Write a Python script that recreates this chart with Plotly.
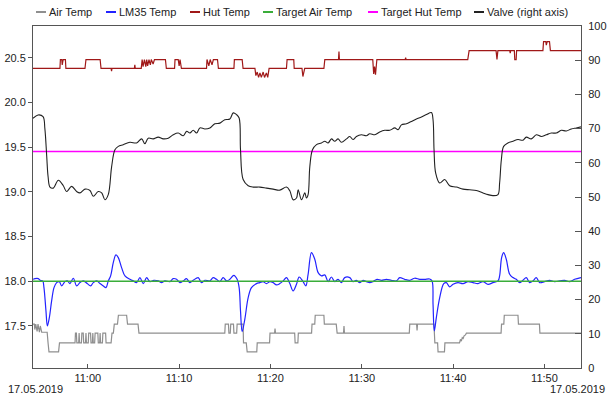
import pandas as pd
import plotly.graph_objects as go

# ---------------- data (time in minutes after 10:54:00 on 17.05.2019) ----------------
BASE = "2019-05-17 10:54:00"

air_m = [0, 0.15, 0.2, 0.3, 0.45, 0.55, 0.7, 0.8, 0.95, 1.55, 1.65, 1.75, 2.8, 2.9,
         4.6, 4.65, 4.75, 4.8, 5.0, 5.05, 5.1, 5.3, 5.35, 5.5, 5.55, 5.75, 5.8, 5.85, 6.05, 6.1, 6.3,
         6.35, 6.5, 6.55, 6.6, 6.75, 6.8, 7.1, 7.15, 7.3, 7.35, 7.4, 7.6, 7.65, 7.95, 8.0,
         8.55, 8.65, 8.8, 8.9, 9.25, 9.35, 10.25, 10.35, 11.5, 11.6, 21.0, 21.05, 21.4, 21.45, 21.6, 21.65,
         21.95, 22.0, 22.3, 22.35, 23.0, 23.05, 23.35, 23.45, 24.5, 24.55, 25.9, 25.95, 26.45, 26.5, 26.55,
         28.65, 28.7, 29.0, 29.05, 30.5, 30.55, 30.85, 30.9, 31.85, 31.9, 33.2, 33.3, 34.0, 34.05, 34.1,
         41.2, 41.25, 42.0, 42.05, 42.1, 43.9, 44.0, 44.3, 44.35, 45.05, 45.1, 46.7, 46.8, 46.9, 47.0, 47.1,
         47.2, 47.35, 47.45, 51.25, 51.3, 51.55, 51.6, 53.1, 53.15, 55.45, 55.5, 60]
air_v = [17.52, 17.52, 17.46, 17.52, 17.44, 17.52, 17.43, 17.50, 17.43, 17.43, 17.31, 17.21, 17.21, 17.31,
         17.31, 17.42, 17.42, 17.31, 17.31, 17.42, 17.31, 17.31, 17.42, 17.42, 17.31, 17.31, 17.42, 17.31,
         17.31, 17.42, 17.42, 17.31, 17.31, 17.42, 17.31, 17.31, 17.42, 17.42, 17.31, 17.31, 17.42, 17.31,
         17.31, 17.42, 17.42, 17.31,
         17.31, 17.42, 17.42, 17.52, 17.52, 17.62,
         17.62, 17.52, 17.52, 17.42, 17.42, 17.52, 17.52, 17.42, 17.42, 17.52, 17.52, 17.42, 17.42, 17.52,
         17.52, 17.31, 17.31, 17.21, 17.21, 17.31, 17.31, 17.42, 17.42, 17.47, 17.42, 17.42, 17.31, 17.31,
         17.42, 17.42, 17.52, 17.52, 17.62, 17.62, 17.52, 17.52, 17.42, 17.42, 17.50, 17.42, 17.42, 17.52,
         17.52, 17.45, 17.52, 17.52, 17.31, 17.31, 17.21, 17.21, 17.31, 17.31, 17.35, 17.33, 17.37, 17.36,
         17.39, 17.40, 17.42, 17.42, 17.52, 17.52, 17.62, 17.62, 17.52, 17.52, 17.42, 17.42]

lm35_m = [0, 0.22, 0.58, 0.77, 1.06, 1.20, 1.42, 1.57, 1.79, 2.04, 2.30, 2.59, 2.88, 3.14, 3.50, 3.76, 4.05,
          4.41, 4.78, 5.14, 5.51, 5.94, 6.31, 6.60, 6.97, 7.33, 7.70, 7.99, 8.24, 8.50, 8.79, 9.08, 9.34,
          9.70, 10.07, 10.61, 10.98, 11.34, 11.71, 12.07, 12.44, 12.80, 13.24, 13.71, 14.08, 14.44, 14.99,
          15.35, 15.72, 16.08, 16.45, 16.81, 17.18, 17.54, 18.09, 18.45, 18.82, 19.37, 19.73, 20.09, 20.46,
          20.82, 21.19, 21.55, 21.99, 22.35, 22.57, 22.72, 22.90, 23.19, 23.56, 23.92, 24.47, 24.84, 25.20,
          25.56, 25.93, 26.29, 26.66, 27.02, 27.39, 27.75, 28.12, 28.48, 28.85, 29.14, 29.57, 29.87, 30.12,
          30.49, 30.85, 31.22, 31.58, 31.95, 32.31, 32.67, 33.04, 33.40, 33.77, 34.13, 34.68, 35.04, 35.41,
          35.77, 36.14, 36.50, 36.87, 37.23, 37.67, 38.14, 38.69, 39.24, 39.79, 40.15, 40.70, 41.24, 41.79,
          42.34, 42.89, 43.43, 43.69, 43.80, 43.94, 44.16, 44.53, 44.97, 45.26, 45.62, 45.99, 46.53, 47.08,
          47.63, 48.17, 48.72, 49.27, 49.82, 50.36, 50.91, 51.09, 51.31, 51.53, 51.82, 52.19, 52.55, 52.92,
          53.28, 53.64, 54.01, 54.37, 54.74, 55.10, 55.47, 56.01, 56.56, 57.11, 57.66, 58.20, 58.75, 59.30,
          60.0]
lm35_v = [18.022, 18.030, 18.030, 18.011, 18.004, 17.929, 17.668, 17.500, 17.594, 17.780, 17.929, 17.985,
          17.996, 17.948, 17.996, 18.004, 17.974, 18.034, 17.948, 17.985, 18.004, 17.974, 17.948, 17.985,
          18.004, 17.974, 17.948, 17.929, 18.004, 18.060, 18.209, 18.295, 18.265, 18.153, 18.060, 18.022,
          18.004, 17.985, 18.041, 17.974, 18.041, 17.996, 18.011, 18.004, 17.985, 18.004, 17.996, 18.030,
          18.022, 17.985, 18.004, 18.030, 17.985, 18.011, 18.041, 17.985, 18.011, 18.004, 18.041, 18.022,
          17.996, 18.041, 18.004, 18.022, 18.067, 18.022, 17.929, 17.668, 17.437, 17.575, 17.817, 17.929,
          17.974, 17.985, 17.996, 17.974, 17.996, 17.985, 17.959, 17.974, 18.004, 18.041, 17.974, 17.892,
          17.966, 18.048, 17.996, 17.948, 18.078, 18.321, 18.246, 18.097, 18.060, 18.071, 17.996, 18.048,
          17.996, 18.022, 17.985, 18.041, 18.041, 17.996, 18.011, 17.985, 18.011, 17.996, 17.985, 17.996,
          18.022, 18.011, 18.022, 18.011, 18.004, 18.041, 18.022, 18.011, 18.034, 18.022, 18.022, 18.026,
          18.004, 17.743, 17.444, 17.594, 17.817, 17.974, 17.985, 17.937, 17.966, 17.985, 17.974, 17.996,
          17.985, 17.974, 17.996, 17.966, 17.985, 18.004, 18.060, 18.265, 18.321, 18.246, 18.078, 18.041,
          18.022, 17.985, 18.011, 18.041, 17.985, 18.004, 18.041, 17.985, 17.996, 18.011, 17.996, 18.004,
          18.011, 17.996, 18.022, 18.041]

hut_m = [0, 2.95, 3.0, 3.15, 3.2, 3.3, 3.55, 3.6, 5.69, 5.8, 7.35, 7.45, 8.55, 8.6, 8.65, 11.1, 11.15, 11.2,
         11.85, 11.95, 12.05, 12.2, 12.35, 12.45, 12.55, 12.7, 12.85, 12.95, 13.15, 13.3, 14.5, 14.6, 15.5,
         15.55, 15.9, 16.0, 16.1, 16.25, 19.0, 19.05, 19.25, 19.4, 19.6, 19.75, 20.2, 20.3, 22.0, 22.05,
         22.9, 23.0, 24.3, 24.4, 24.55, 24.7, 24.85, 25.0, 25.2, 25.35, 25.55, 25.7, 25.85, 27.75, 27.82,
         28.55, 28.6, 29.45, 29.55, 29.65, 29.75, 31.85, 31.95, 33.45, 33.5, 33.55, 37.2, 37.3, 37.4, 37.5,
         37.65, 40.75, 40.8, 40.85, 47.6, 47.75, 50.7, 50.8, 50.9, 52.2, 52.25, 52.3, 52.7, 52.75, 52.9,
         52.95, 55.83, 55.9, 56.15, 56.2, 56.3, 56.55, 56.65, 60]
hut_v = [20.38, 20.38, 20.48, 20.48, 20.42, 20.48, 20.48, 20.38, 20.38, 20.48, 20.48, 20.38, 20.38, 20.35,
         20.38, 20.38, 20.42, 20.38, 20.38, 20.48, 20.40, 20.48, 20.40, 20.48, 20.41, 20.48, 20.42, 20.48,
         20.43, 20.48, 20.48, 20.38, 20.38, 20.48, 20.48, 20.41, 20.48, 20.38, 20.38, 20.48, 20.41, 20.48,
         20.42, 20.48, 20.48, 20.38, 20.38, 20.48, 20.48, 20.38, 20.38, 20.30, 20.34, 20.28, 20.33, 20.28,
         20.34, 20.28, 20.33, 20.28, 20.38, 20.38, 20.48, 20.48, 20.38, 20.38, 20.29, 20.35, 20.38, 20.38,
         20.48, 20.48, 20.57, 20.48, 20.48, 20.32, 20.40, 20.31, 20.48, 20.48, 20.50, 20.48, 20.48, 20.58,
         20.58, 20.48, 20.58, 20.58, 20.55, 20.58, 20.58, 20.48, 20.48, 20.58, 20.58, 20.68, 20.68, 20.64,
         20.68, 20.68, 20.58, 20.58]

target_air = 18.0
target_hut = 19.45

valve_m = [0, 0.55, 1.1, 1.3, 1.5, 1.65, 1.86, 2.22, 2.77, 3.32, 3.68, 4.23, 4.78, 5.14, 5.69, 6.24, 6.6,
           7.15, 7.52, 7.88, 8.24, 8.61, 8.97, 9.34, 9.88, 10.61, 11.34, 11.89, 12.25, 12.62, 13.16, 13.71,
           14.26, 14.81, 15.35, 15.9, 16.45, 16.82, 17.18, 17.54, 17.91, 18.27, 18.82, 19.37, 19.91, 20.46,
           21.0, 21.55, 21.92, 22.28, 22.57, 22.72, 23.01, 23.56, 24.1, 24.84, 25.57, 26.29, 27.02, 27.75,
           28.12, 28.48, 28.85, 29.03, 29.4, 29.76, 29.94, 30.12, 30.31, 30.6, 31.04, 31.58, 31.95, 32.31,
           32.68, 33.04, 33.4, 33.77, 34.32, 34.68, 35.04, 35.41, 35.96, 36.5, 36.87, 37.42, 37.96, 38.51,
           39.06, 39.61, 39.97, 40.34, 40.89, 41.43, 41.98, 42.53, 43.07, 43.62, 43.8, 43.91, 44.09, 44.53,
           45.08, 45.62, 46.35, 47.08, 47.81, 48.54, 49.27, 49.82, 50.36, 50.91, 51.09, 51.28, 51.53, 52.0,
           52.55, 53.1, 53.64, 54.01, 54.56, 55.11, 55.65, 56.2, 56.75, 57.3, 57.84, 58.39, 58.94, 59.48,
           60.0]
valve_v = [73.0, 74.0, 73.5, 70.0, 62.0, 56.0, 52.9, 52.6, 54.9, 53.3, 51.6, 53.1, 51.6, 51.2, 52.3, 51.9,
           50.2, 51.6, 51.2, 49.2, 50.7, 58.9, 63.8, 64.8, 65.3, 66.0, 65.8, 67.0, 65.6, 67.2, 67.0, 67.5,
           67.0, 67.2, 68.2, 68.7, 67.9, 69.2, 68.7, 69.5, 68.7, 70.2, 69.9, 70.2, 71.4, 71.6, 72.6, 72.8,
           74.6, 74.1, 73.1, 63.8, 55.1, 53.3, 52.9, 52.9, 52.6, 52.3, 52.0, 52.9, 51.8, 49.2, 49.7, 52.1,
           49.2, 51.2, 49.7, 50.7, 58.9, 63.8, 65.3, 65.8, 66.3, 65.8, 67.0, 66.3, 67.0, 66.0, 67.0, 67.7,
           66.8, 67.7, 68.2, 67.9, 68.5, 68.2, 69.0, 69.5, 69.5, 70.2, 69.7, 71.1, 71.4, 72.1, 72.8, 73.4,
           74.1, 74.7, 72.6, 63.8, 57.0, 54.1, 55.1, 53.3, 52.9, 52.3, 52.1, 51.9, 51.2, 50.7, 50.4, 50.7,
           54.1, 60.9, 64.8, 65.8, 66.3, 66.8, 66.6, 67.5, 67.0, 68.2, 67.7, 68.2, 68.7, 68.7, 69.5, 69.3,
           69.9, 70.2, 70.5]

series_names = ["Air Temp", "LM35 Temp", "Hut Temp", "Target Air Temp", "Target Hut Temp", "Valve (right axis)"]
series_colors = ["#8f8f8f", "#2323ff", "#a01818", "#3aad3a", "#ff00ff", "#222222"]
date_label = "17.05.2019"

# ---------------- build ----------------
base = pd.Timestamp(BASE)


def t(mins):
    return base + pd.to_timedelta(pd.Series(mins, dtype=float), unit="min")


t0, t1 = base, base + pd.Timedelta(minutes=60)
FONT = "Liberation Sans, Arial, Helvetica, sans-serif"
AX = "#555555"

fig = go.Figure()
fig.add_trace(go.Scatter(x=t(air_m), y=air_v, name=series_names[0], mode="lines",
                         line=dict(color=series_colors[0], width=1.2)))
fig.add_trace(go.Scatter(x=t(lm35_m), y=lm35_v, name=series_names[1], mode="lines", line_shape="spline",
                         line=dict(color=series_colors[1], width=1.2)))
fig.add_trace(go.Scatter(x=t(hut_m), y=hut_v, name=series_names[2], mode="lines",
                         line=dict(color=series_colors[2], width=1.2)))
fig.add_trace(go.Scatter(x=[t0, t1], y=[target_air, target_air], name=series_names[3], mode="lines",
                         line=dict(color=series_colors[3], width=1.3)))
fig.add_trace(go.Scatter(x=[t0, t1], y=[target_hut, target_hut], name=series_names[4], mode="lines",
                         line=dict(color=series_colors[4], width=1.5)))
fig.add_trace(go.Scatter(x=t(valve_m), y=valve_v, name=series_names[5], mode="lines", line_shape="spline",
                         line=dict(color=series_colors[5], width=1.1), yaxis="y2"))

L, R, T, B = 33, 28, 26, 28
W, H = 609, 396
pw, ph = W - L - R, H - T - B

# legend drawn as short line swatches + labels above the plot
leg_line_px = [36, 106, 190, 263, 368, 474]
shapes, annotations = [], []
ly = 1 + (T - 12) / ph
for name, col, px in zip(series_names, series_colors, leg_line_px):
    x0 = (px - L) / pw
    x1 = (px + 10 - L) / pw
    shapes.append(dict(type="line", xref="paper", yref="paper", x0=x0, x1=x1, y0=ly, y1=ly,
                       line=dict(color=col, width=2)))
    annotations.append(dict(text=name, xref="paper", yref="paper", x=(px + 11 - L) / pw, y=ly,
                            xanchor="left", yanchor="middle", showarrow=False,
                            font=dict(size=11, color="#222222", family=FONT)))

dy = (H - B - 389) / ph
annotations.append(dict(text=date_label, xref="paper", yref="paper", x=(6 - L) / pw, y=dy,
                        xanchor="left", yanchor="middle", showarrow=False,
                        font=dict(size=11, color="#222222", family=FONT)))
annotations.append(dict(text=date_label, xref="paper", yref="paper", x=(607 - L) / pw, y=dy,
                        xanchor="right", yanchor="middle", showarrow=False,
                        font=dict(size=11, color="#222222", family=FONT)))

fig.update_layout(
    width=W, height=H,
    margin=dict(l=L, r=R, t=T, b=B, pad=0, autoexpand=False),
    paper_bgcolor="white", plot_bgcolor="white",
    showlegend=False,
    font=dict(family=FONT, size=11, color="#222222"),
    shapes=shapes, annotations=annotations,
    xaxis=dict(type="date", range=[t0, t1], tickformat="%H:%M", dtick=600000,
               tick0="2019-05-17 11:00:00", automargin=False,
               showgrid=False, zeroline=False, showline=True, linecolor=AX, linewidth=1, mirror=True,
               ticks="inside", ticklen=4, tickcolor=AX),
    yaxis=dict(range=[17.03, 20.855], dtick=0.5, tick0=17.5, tickformat=".1f", automargin=False,
               showgrid=False, zeroline=False, showline=True, linecolor=AX, linewidth=1,
               ticks="outside", ticklen=4, tickcolor=AX),
    yaxis2=dict(range=[0, 100], dtick=10, overlaying="y", side="right", automargin=False,
                showgrid=False, zeroline=False, showline=True, linecolor=AX, linewidth=1,
                ticks="inside", ticklen=6, tickcolor=AX, ticklabelstandoff=4),
)

fig.write_html("out.html")
